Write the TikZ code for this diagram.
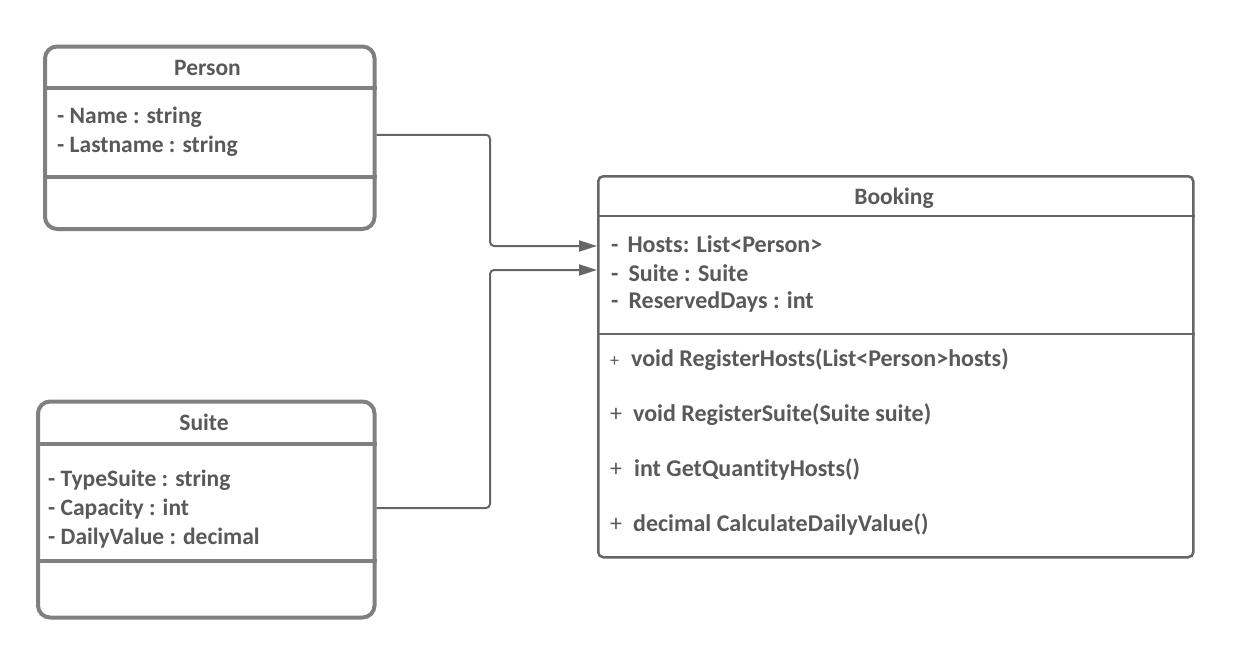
\documentclass[tikz,border=0pt]{standalone}
\usepackage{fontspec}
\setmainfont{Carlito}[Ligatures=NoCommon]
\usetikzlibrary{arrows.meta}
\definecolor{txt}{HTML}{595959}
\definecolor{boxc}{HTML}{808080}
\definecolor{bookc}{HTML}{666666}
\definecolor{linec}{HTML}{666666}
\begin{document}
\begin{tikzpicture}[x=1pt,y=-1pt,
  cls/.style={draw=boxc, fill=white, line width=4pt, rounded corners=12pt, anchor=north west, inner sep=0pt},
  bcls/.style={draw=bookc, fill=white, line width=2.5pt, rounded corners=5pt, anchor=north west, inner sep=0pt},
  sepline/.style={draw=boxc, line width=4pt},
  bsepline/.style={draw=bookc, line width=2.5pt},
  lbl/.style={font=\fontsize{23.5}{26}\selectfont\bfseries, text=txt, inner sep=0pt, anchor=base west},
  mlbl/.style={font=\fontsize{24}{26}\selectfont\bfseries, text=txt, inner sep=0pt, anchor=base west},
  ttl/.style={font=\fontsize{23.5}{26}\selectfont\bfseries, text=txt, inner sep=0pt, anchor=base},
  conn/.style={draw=linec, line width=2pt, rounded corners=4pt, -{Triangle[length=18pt,width=11pt]}}]
\useasboundingbox (0,0) rectangle (1234,664);
% Person
\node[cls, minimum width=329.5pt, minimum height=182.5pt] (person) at (43,44.5) {};
\draw[sepline] (person.west |- 0,88) -- (person.east |- 0,88);
\draw[sepline] (person.west |- 0,176.5) -- (person.east |- 0,176.5);
\node[ttl] (persontitle) at (207.5,75.5) {Person};
\node[lbl] (pname) at (57,123.5) {- Name : string};
\node[lbl] (plast) at (57,152.5) {- Lastname : string};
% Suite
\node[cls, minimum width=336.5pt, minimum height=216pt] (suite) at (36,399.5) {};
\draw[sepline] (suite.west |- 0,443.5) -- (suite.east |- 0,443.5);
\draw[sepline] (suite.west |- 0,560.5) -- (suite.east |- 0,560.5);
\node[ttl] (suitetitle) at (204,430.5) {Suite};
\node[lbl] (stype) at (48,486.5) {- TypeSuite : string};
\node[lbl] (scap) at (48,515.5) {- Capacity : int};
\node[lbl] (sdaily) at (48,544.5) {- DailyValue : decimal};
% Booking
\node[bcls, minimum width=595pt, minimum height=381pt] (booking) at (597,175) {};
\draw[bsepline] (booking.west |- 0,216) -- (booking.east |- 0,216);
\draw[bsepline] (booking.west |- 0,334) -- (booking.east |- 0,334);
\node[ttl] (bookingtitle) at (894,204.5) {Booking};
\node[mlbl] (bhosts) at (611,252.5) {-\hspace{9pt}Hosts: List<Person>};
\node[mlbl] (bsuite) at (611,281.5) {-\hspace{10pt}Suite : Suite};
\node[mlbl] (bdays) at (611,308.5) {-\hspace{10pt}ReservedDays : int};
\node[mlbl] (m1) at (610,366.5) {{\mdseries\fontsize{18}{18}\selectfont +}\hspace{12pt}void RegisterHosts(List<Person>hosts)};
\node[mlbl] (m2) at (610,421.5) {{\mdseries +}\hspace{11pt}void RegisterSuite(Suite suite)};
\node[mlbl] (m3) at (610,476.5) {{\mdseries +}\hspace{12pt}int GetQuantityHosts()};
\node[mlbl] (m4) at (610,531.5) {{\mdseries +}\hspace{11pt}decimal CalculateDailyValue()};
% connectors
\draw[conn] ([yshift=3pt]person.east) -- ++(113.5,0) |- ([yshift=-71pt]booking.north west);
\draw[conn] ([yshift=1.5pt]suite.east) -- ++(113.5,0) |- ([yshift=-95pt]booking.north west);
\end{tikzpicture}
\end{document}
